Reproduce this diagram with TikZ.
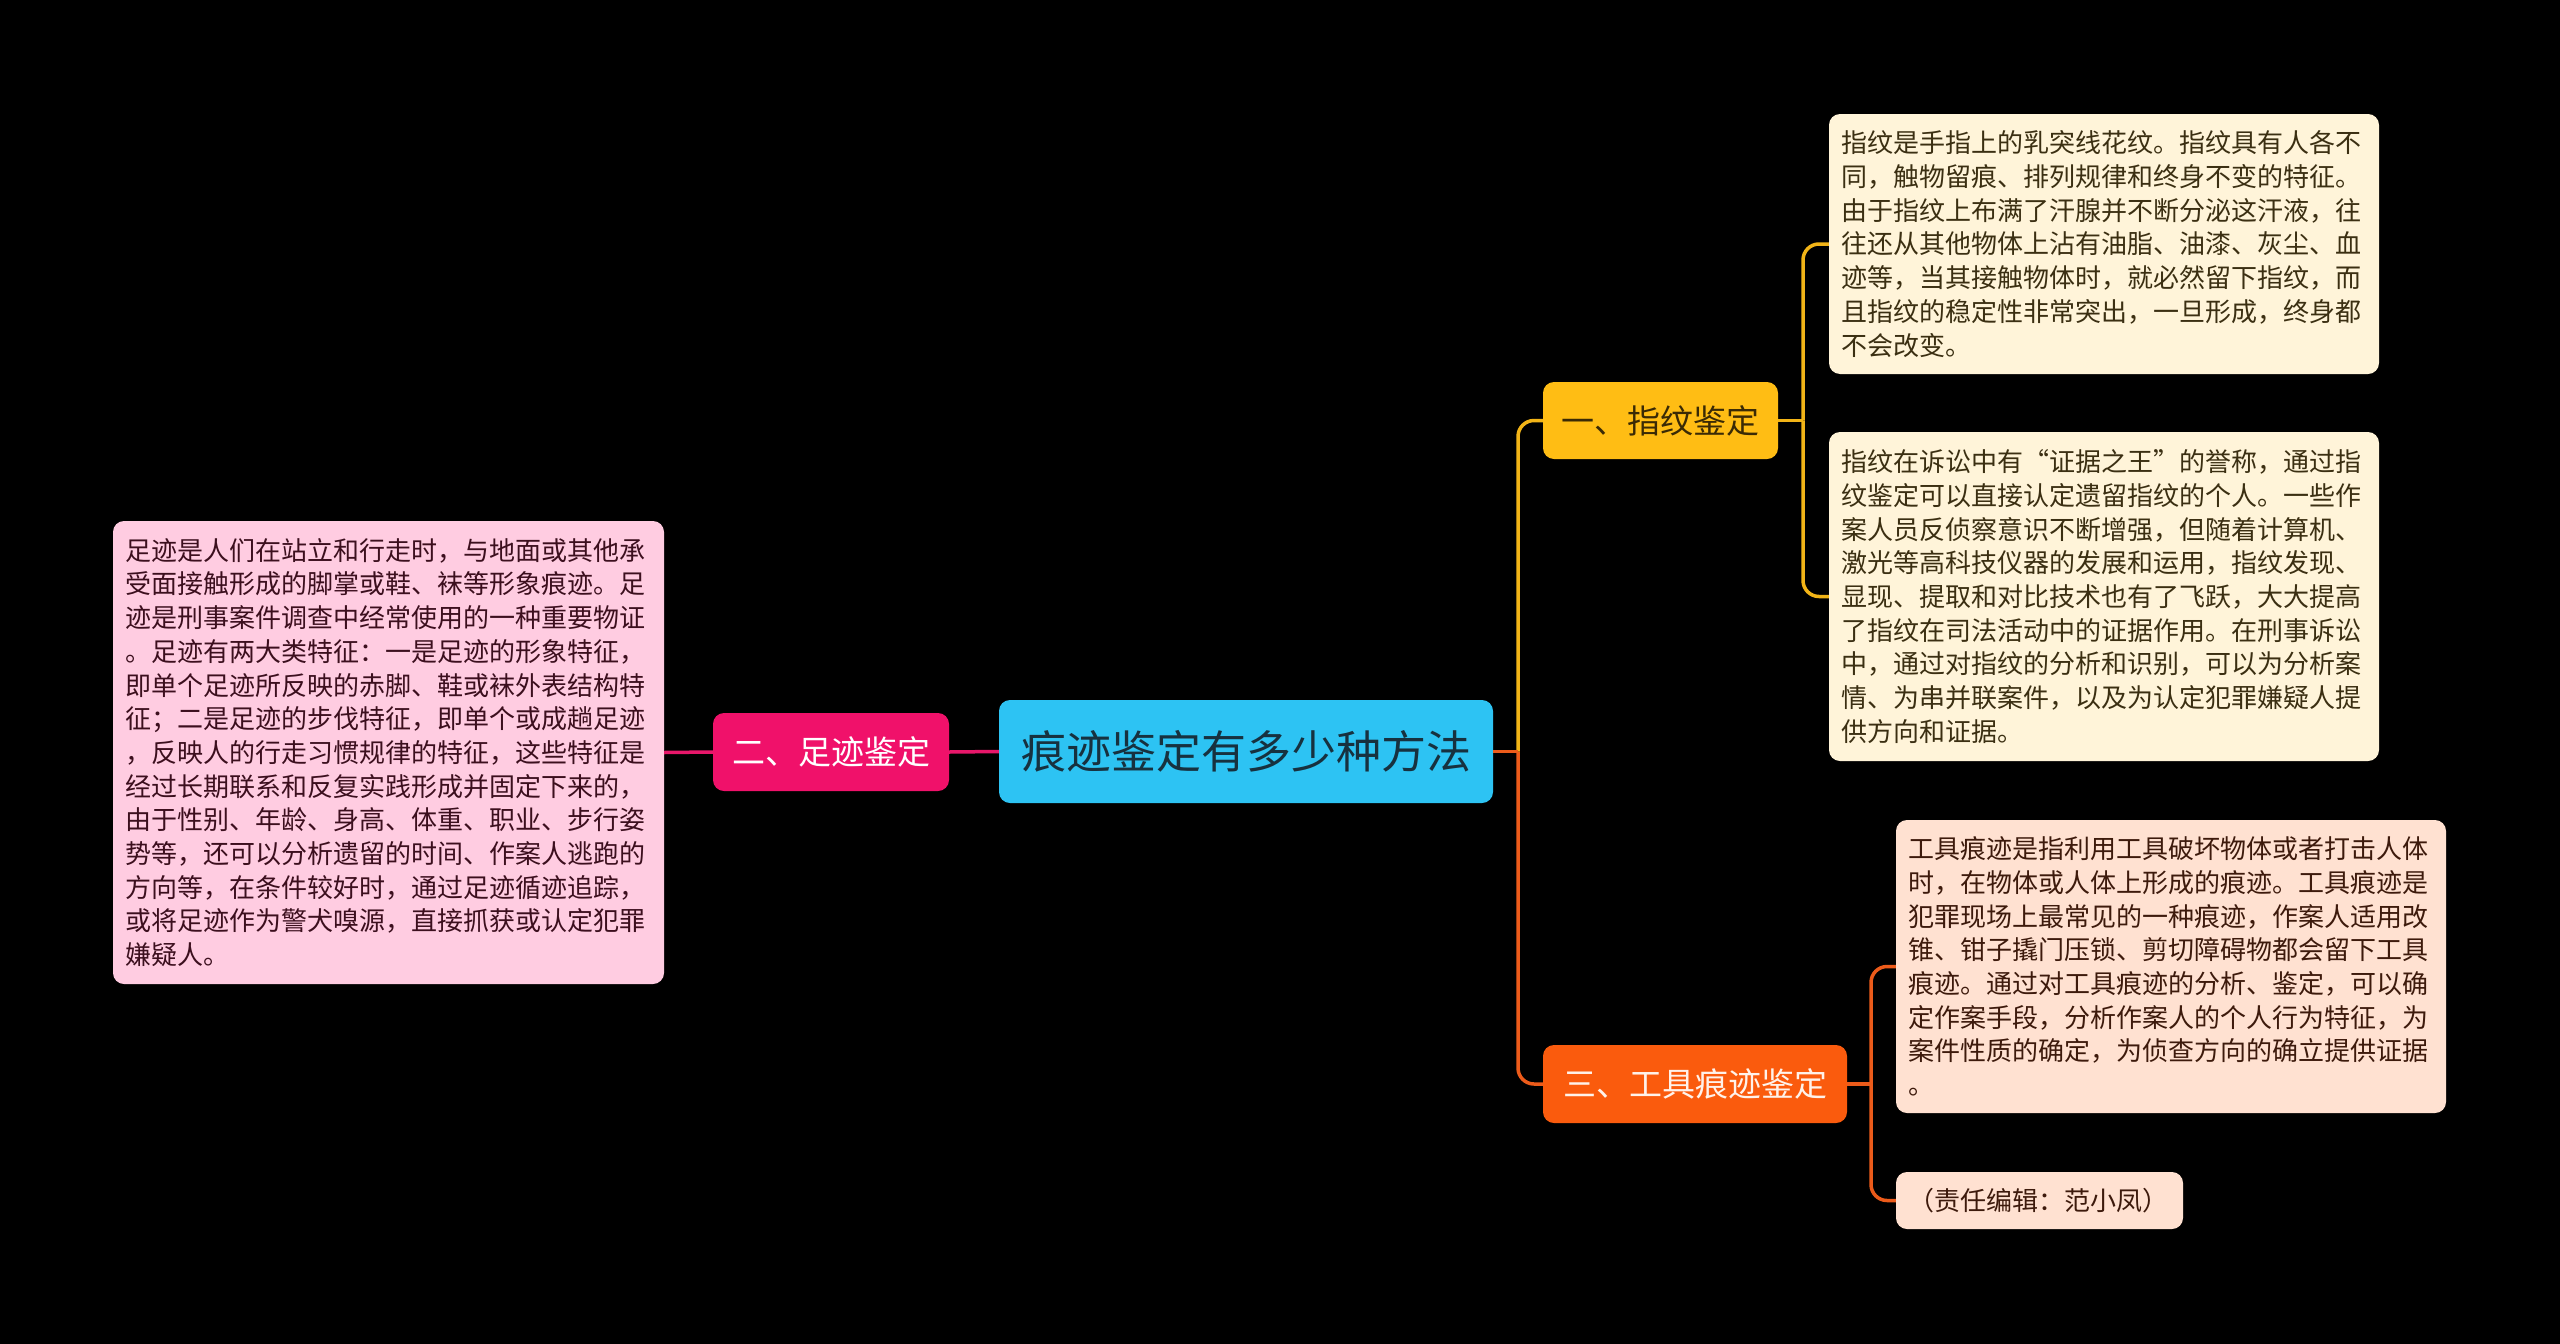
\documentclass[tikz,border=0pt]{standalone}
\usepackage{fontspec}
\setmainfont{Noto Sans CJK SC}
\newcommand{\fwq}[1]{{\addfontfeature{CharacterWidth=Full}#1}}
\definecolor{rootfill}{HTML}{2DC3F3}
\definecolor{roottext}{HTML}{17313F}
\definecolor{pinkfill}{HTML}{F0116A}
\definecolor{pinkline}{HTML}{E8176A}
\definecolor{leftfill}{HTML}{FFCCE1}
\definecolor{lefttext}{HTML}{3C0F1E}
\definecolor{amberfill}{HTML}{FFBD14}
\definecolor{ambertext}{HTML}{3A2A05}
\definecolor{amberline}{HTML}{F2B417}
\definecolor{creamfill}{HTML}{FFF4D9}
\definecolor{creamtext}{HTML}{3B2F12}
\definecolor{orangefill}{HTML}{FA5B0D}
\definecolor{orangetext}{HTML}{FFF2EA}
\definecolor{orangeline}{HTML}{EC5B1A}
\definecolor{peachfill}{HTML}{FFE1D1}
\definecolor{peachtext}{HTML}{3D1A0C}
\tikzset{
  x=1pt, y=-1pt,
  boxbase/.style={rounded corners=11pt, inner sep=0pt, align=left, anchor=center},
  rootbox/.style={boxbase, fill=rootfill, text=roottext, align=center,
    font={\fontsize{45pt}{52pt}\selectfont}},
  topicbox/.style={boxbase, align=center, font={\fontsize{33pt}{40pt}\selectfont}},
  notebox/.style={boxbase, font={\fontsize{26pt}{33.7pt}\selectfont}},
  pinkcon/.style={draw=pinkline, line width=3.5pt},
  ambercon/.style={draw=amberline, line width=3.5pt},
  orangecon/.style={draw=orangeline, line width=3.5pt},
}
\begin{document}
\begin{tikzpicture}
\useasboundingbox (0,0) rectangle (2560,1344);
\fill[black] (0,0) rectangle (2560,1344);

% root
\node[rootbox, minimum width=494pt, minimum height=103pt] (root) at (1246,751.5) {痕迹鉴定有多少种方法};

% level 1
\node[topicbox, fill=pinkfill, text=white, minimum width=236pt, minimum height=78pt] (er) at (831,752) {二、足迹鉴定};
\node[topicbox, fill=amberfill, text=ambertext, minimum width=235pt, minimum height=77pt] (yi) at (1660.5,420.5) {一、指纹鉴定};
\node[topicbox, fill=orangefill, text=orangetext, minimum width=304pt, minimum height=78pt] (san) at (1695,1084) {三、工具痕迹鉴定};

% notes
\node[notebox, fill=leftfill, text=lefttext, minimum width=551pt, minimum height=463pt, text width=526pt] (lf) at (388.5,752.5) {%
足迹是人们在站立和行走时，与地面或其他承\\
受面接触形成的脚掌或鞋、袜等形象痕迹。足\\
迹是刑事案件调查中经常使用的一种重要物证\\
。足迹有两大类特征：一是足迹的形象特征，\\
即单个足迹所反映的赤脚、鞋或袜外表结构特\\
征；二是足迹的步伐特征，即单个或成趟足迹\\
，反映人的行走习惯规律的特征，这些特征是\\
经过长期联系和反复实践形成并固定下来的，\\
由于性别、年龄、身高、体重、职业、步行姿\\
势等，还可以分析遗留的时间、作案人逃跑的\\
方向等，在条件较好时，通过足迹循迹追踪，\\
或将足迹作为警犬嗅源，直接抓获或认定犯罪\\
嫌疑人。};

\node[notebox, fill=creamfill, text=creamtext, minimum width=550pt, minimum height=260pt, text width=526pt] (b1) at (2104,244) {%
指纹是手指上的乳突线花纹。指纹具有人各不\\
同，触物留痕、排列规律和终身不变的特征。\\
由于指纹上布满了汗腺并不断分泌这汗液，往\\
往还从其他物体上沾有油脂、油漆、灰尘、血\\
迹等，当其接触物体时，就必然留下指纹，而\\
且指纹的稳定性非常突出，一旦形成，终身都\\
不会改变。};

\node[notebox, fill=creamfill, text=creamtext, minimum width=550pt, minimum height=329pt, text width=526pt] (b2) at (2104,596.5) {%
指纹在诉讼中有\fwq{“}证据之王\fwq{”}的誉称，通过指\\
纹鉴定可以直接认定遗留指纹的个人。一些作\\
案人员反侦察意识不断增强，但随着计算机、\\
激光等高科技仪器的发展和运用，指纹发现、\\
显现、提取和对比技术也有了飞跃，大大提高\\
了指纹在司法活动中的证据作用。在刑事诉讼\\
中，通过对指纹的分析和识别，可以为分析案\\
情、为串并联案件，以及为认定犯罪嫌疑人提\\
供方向和证据。};

\node[notebox, fill=peachfill, text=peachtext, minimum width=550pt, minimum height=293pt, text width=526pt] (b3) at (2171,966.5) {%
工具痕迹是指利用工具破坏物体或者打击人体\\
时，在物体或人体上形成的痕迹。工具痕迹是\\
犯罪现场上最常见的一种痕迹，作案人适用改\\
锥、钳子撬门压锁、剪切障碍物都会留下工具\\
痕迹。通过对工具痕迹的分析、鉴定，可以确\\
定作案手段，分析作案人的个人行为特征，为\\
案件性质的确定，为侦查方向的确立提供证据\\
。};

\node[notebox, fill=peachfill, text=peachtext, minimum width=287pt, minimum height=57pt, text width=263pt] (b4) at (2039.5,1200.5) {（责任编辑：范小凤）};

% spines
\coordinate (sp0) at (1518,0);
\coordinate (sp1) at (1803,0);
\coordinate (sp3) at (1871,0);

% connectors
\draw[pinkcon] (root.west) -- (er.east);
\draw[pinkcon] (er.west) -- (lf.east);

\draw[ambercon] (root.east) -- (root.east -| sp0);
\draw[ambercon, rounded corners=16pt] (root.east -| sp0) |- (yi.west);
\draw[orangecon] (root.east) -- (root.east -| sp0);
\draw[orangecon, rounded corners=16pt] (root.east -| sp0) |- (san.west);

\draw[ambercon] (yi.east) -- (yi.east -| sp1);
\draw[ambercon, rounded corners=16pt] (yi.east -| sp1) |- (b1.west);
\draw[ambercon, rounded corners=16pt] (yi.east -| sp1) |- (b2.west);

\draw[orangecon] (san.east) -- (san.east -| sp3);
\draw[orangecon, rounded corners=16pt] (san.east -| sp3) |- (b3.west);
\draw[orangecon, rounded corners=16pt] (san.east -| sp3) |- (b4.west);
\end{tikzpicture}
\end{document}
